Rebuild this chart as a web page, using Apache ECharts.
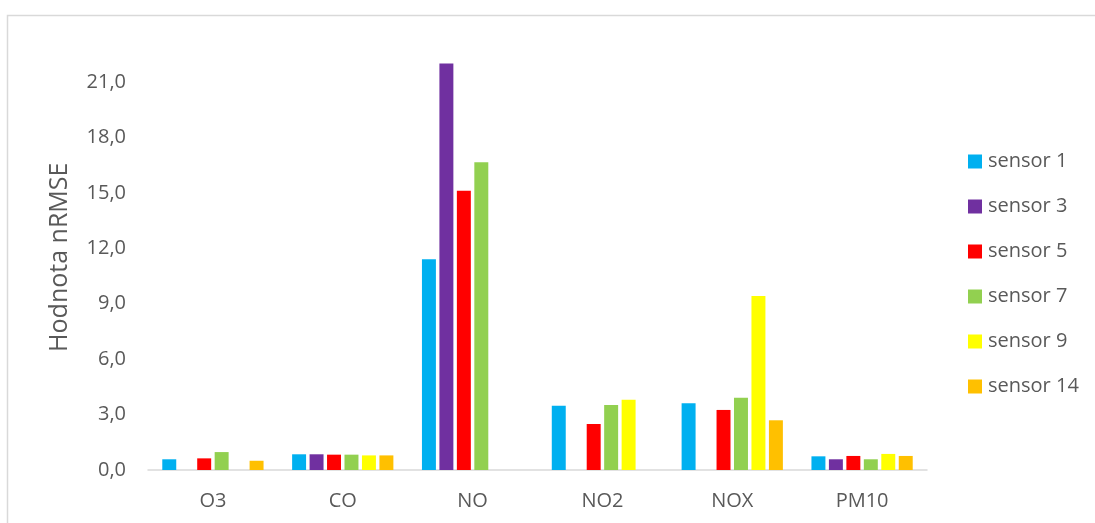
<!DOCTYPE html>
<html>
<head>
<meta charset="utf-8">
<script src="https://cdn.jsdelivr.net/npm/echarts@6/dist/echarts.min.js"></script>
<style>
  html, body { margin: 0; padding: 0; background: #ffffff; }
  #chart { width: 1095px; height: 523px; }
</style>
</head>
<body>
<div id="chart"></div>
<script>
// Pollutant categories on the x axis
const categories = ['O3', 'CO', 'NO', 'NO2', 'NOX', 'PM10'];

// nRMSE per sensor (null = no value for that pollutant)
const sensor1  = [0.58, 0.85, 11.40, 3.48, 3.61, 0.74];
const sensor3  = [null, 0.85, 22.00, null, null, 0.58];
const sensor5  = [0.63, 0.83, 15.11, 2.49, 3.25, 0.76];
const sensor7  = [0.97, 0.83, 16.65, 3.52, 3.91, 0.58];
const sensor9  = [null, 0.79, null, 3.80, 9.42, 0.87];
const sensor14 = [0.50, 0.79, null, null, 2.69, 0.76];

const seriesNames = ['sensor 1', 'sensor 3', 'sensor 5', 'sensor 7', 'sensor 9', 'sensor 14'];
const seriesData = [sensor1, sensor3, sensor5, sensor7, sensor9, sensor14];
const colors = ['#00B0F0', '#7030A0', '#FF0000', '#92D050', '#FFFF00', '#FFC000'];

const textColor = '#595959';
const fontFamily = '"Open Sans", Lato, sans-serif';

const chart = echarts.init(document.getElementById('chart'), null, { renderer: 'canvas' });

chart.setOption({
  animation: false,
  backgroundColor: '#ffffff',
  color: colors,
  textStyle: { fontFamily: fontFamily, color: textColor },
  graphic: [{
    type: 'rect',
    shape: { x: 7.5, y: 15.5, width: 1100, height: 520 },
    style: { fill: 'none', stroke: '#d9d9d9', lineWidth: 1.5 },
    silent: true,
    z: -1
  }],
  grid: { left: 148, right: 168, top: 26.5, bottom: 53, containLabel: false },
  legend: {
    orient: 'vertical',
    left: 968,
    top: 151,
    padding: 0,
    itemWidth: 14,
    itemHeight: 14,
    itemGap: 24,
    icon: 'rect',
    textStyle: { fontSize: 20, color: textColor, fontFamily: fontFamily, lineHeight: 21, padding: [0, 0, 0, 1] },
    data: seriesNames
  },
  xAxis: {
    type: 'category',
    data: categories,
    axisLine: { show: true, lineStyle: { color: '#d9d9d9', width: 1.5 } },
    axisTick: { show: false },
    axisLabel: { fontSize: 20, color: textColor, margin: 21, fontFamily: fontFamily }
  },
  yAxis: {
    type: 'value',
    min: 0,
    max: 24,
    interval: 3,
    name: 'Hodnota nRMSE',
    nameLocation: 'middle',
    nameGap: 76,
    nameTextStyle: { fontSize: 25, color: textColor, fontFamily: fontFamily, padding: [0, 18, 0, 0] },
    axisLine: { show: false },
    axisTick: { show: false },
    splitLine: { show: false },
    axisLabel: {
      fontSize: 20,
      color: textColor,
      margin: 22,
      fontFamily: fontFamily,
      showMaxLabel: false,
      formatter: v => v.toFixed(1).replace('.', ',')
    }
  },
  series: seriesNames.map((name, i) => ({
    name: name,
    type: 'bar',
    data: seriesData[i],
    barGap: '25%',
    barCategoryGap: '22%',
    itemStyle: { color: colors[i] }
  }))
});
</script>
</body>
</html>
